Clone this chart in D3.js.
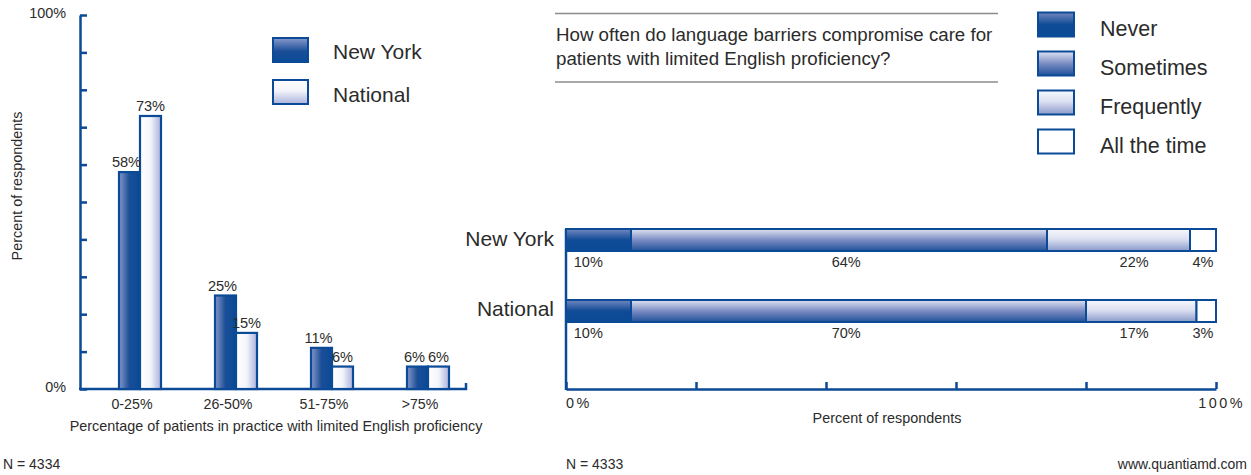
<!DOCTYPE html>
<html>
<head>
<meta charset="utf-8">
<script src="https://cdn.jsdelivr.net/npm/d3@7/dist/d3.min.js"></script>
<style>
  html, body { margin: 0; padding: 0; background: #fff; }
  svg { display: block; font-family: "Liberation Sans", Arial, sans-serif; }
  text { fill: #2b2b2b; }
</style>
</head>
<body>
<svg id="chart" width="1251" height="475"></svg>
<script>
// Practice share of patients with limited English proficiency
const practiceGroups = ["0-25%", "26-50%", "51-75%", ">75%"];
const practiceSeries = ["New York", "National"];
const newYorkShare = [58, 25, 11, 6];
const nationalShare = [73, 15, 6, 6];

// How often language barriers compromise care
const regions = ["New York", "National"];
const frequencyLevels = ["Never", "Sometimes", "Frequently", "All the time"];
const newYorkFrequency = [10, 64, 22, 4];
const nationalFrequency = [10, 70, 17, 3];

const leftTicks = [0, 10, 20, 30, 40, 50, 60, 70, 80, 90, 100];
const rightTicks = [0, 20, 40, 60, 80, 100];

const BLUE = "#0b4a96";
const SMALL = "14.4px";
const svg = d3.select("#chart");
const defs = svg.append("defs");

function gradient(id, stops, horizontal) {
  const g = defs.append("linearGradient").attr("id", id)
    .attr("x1", 0).attr("y1", 0)
    .attr("x2", horizontal ? 1 : 0).attr("y2", horizontal ? 0 : 1);
  stops.forEach(([o, c]) => g.append("stop").attr("offset", o).attr("stop-color", c));
}
// column fills (horizontal shading)
gradient("nyCol", [[0, "#8797c8"], [0.5, "#1a4e98"], [1, "#0b4a96"]], true);
gradient("natCol", [[0, "#ffffff"], [0.5, "#f4f5fb"], [1, "#aab2dc"]], true);
// legend / stacked fills (vertical shading)
gradient("nyV", [[0, "#8a9bcc"], [0.55, "#1a4e98"], [1, "#0b4a96"]], false);
gradient("natV", [[0, "#ffffff"], [0.45, "#f3f4fa"], [1, "#aab2dc"]], false);
gradient("lvl0", [[0, "#7388bf"], [0.5, "#0f4b96"], [1, "#0b4a96"]], false);
gradient("lvl1", [[0, "#dfe3f2"], [0.5, "#7b8cc3"], [1, "#1f5199"]], false);
gradient("lvl2", [[0, "#f7f8fc"], [0.45, "#dde1f1"], [1, "#8a99ca"]], false);
gradient("lvl3", [[0, "#ffffff"], [1, "#ffffff"]], false);
const levelFill = frequencyLevels.map((d, i) => `url(#lvl${i})`);

/* ---------------- Left: grouped columns ---------------- */
const yL = d3.scaleLinear().domain([0, 100]).range([389, 15]);
const xG = d3.scaleBand().domain(practiceGroups).range([92, 476]).padding(0);
const xS = d3.scaleBand().domain(practiceSeries).range([-21, 21]);

const yAxisL = svg.append("g").attr("transform", "translate(80,0)")
  .call(d3.axisRight(yL).tickValues(leftTicks).tickSize(7).tickSizeOuter(0).tickFormat(""));
yAxisL.selectAll("path, line").attr("stroke", BLUE).attr("stroke-width", 2.5);

// baseline with end tick
const xAxisL = svg.append("g").attr("transform", "translate(0,389)");
xAxisL.append("line").attr("x1", 79).attr("x2", 467).attr("stroke", BLUE).attr("stroke-width", 2.5);
xAxisL.append("line").attr("x1", 466).attr("x2", 466).attr("y1", 1).attr("y2", -6)
  .attr("stroke", BLUE).attr("stroke-width", 2.5);

svg.append("text").attr("x", 66).attr("y", 18).attr("text-anchor", "end")
  .style("font-size", SMALL).text("100%");
svg.append("text").attr("x", 66).attr("y", 392).attr("text-anchor", "end")
  .style("font-size", SMALL).text("0%");

svg.append("text").attr("transform", "translate(22,186) rotate(-90)")
  .attr("text-anchor", "middle").style("font-size", SMALL).text("Percent of respondents");

const colData = practiceGroups.flatMap((g, i) => [
  { group: g, series: "New York", value: newYorkShare[i], fill: "url(#nyCol)" },
  { group: g, series: "National", value: nationalShare[i], fill: "url(#natCol)" }
]);

const cols = svg.append("g");
cols.selectAll("rect").data(colData).join("rect")
  .attr("x", d => xG(d.group) + xG.bandwidth() / 2 + xS(d.series))
  .attr("width", xS.bandwidth())
  .attr("y", d => yL(d.value))
  .attr("height", d => yL(0) - yL(d.value))
  .attr("fill", d => d.fill)
  .attr("stroke", BLUE).attr("stroke-width", 2.2);

cols.selectAll("text").data(colData).join("text")
  .attr("x", d => xG(d.group) + xG.bandwidth() / 2 + xS(d.series) + xS.bandwidth() / 2 - (d.series === "New York" ? 3 : 0))
  .attr("y", d => yL(d.value) - 5)
  .attr("text-anchor", "middle").style("font-size", "14.6px")
  .text(d => d.value + "%");

svg.append("g").selectAll("text").data(practiceGroups).join("text")
  .attr("x", d => xG(d) + xG.bandwidth() / 2 - 8)
  .attr("y", 409).attr("text-anchor", "middle").style("font-size", "14.2px")
  .text(d => d);

svg.append("text").attr("x", 276).attr("y", 431).attr("text-anchor", "middle")
  .style("font-size", SMALL).text("Percentage of patients in practice with limited English proficiency");

// legend
const legL = svg.append("g");
practiceSeries.forEach((s, i) => {
  legL.append("rect").attr("x", 273).attr("y", 38 + i * 42).attr("width", 35).attr("height", 24)
    .attr("fill", i === 0 ? "url(#nyV)" : "url(#natV)")
    .attr("stroke", BLUE).attr("stroke-width", 2);
  legL.append("text").attr("x", 333).attr("y", 59 + i * 43)
    .style("font-size", "21px").text(s);
});

svg.append("text").attr("x", 3).attr("y", 469).style("font-size", "14px").text("N = 4334");

/* ---------------- Right: stacked bars ---------------- */
const xR = d3.scaleLinear().domain([0, 100]).range([566, 1216]);
const yR = d3.scaleBand().domain(regions).range([229, 322]).paddingInner(0.69).paddingOuter(0);

// question heading between rules
svg.append("line").attr("x1", 555).attr("x2", 998).attr("y1", 13.5).attr("y2", 13.5)
  .attr("stroke", "#8c8c8c").attr("stroke-width", 1.5);
svg.append("line").attr("x1", 555).attr("x2", 998).attr("y1", 82).attr("y2", 82)
  .attr("stroke", "#8c8c8c").attr("stroke-width", 1.5);
svg.append("text").attr("x", 556).attr("y", 41).style("font-size", "18.7px")
  .text("How often do language barriers compromise care for");
svg.append("text").attr("x", 556).attr("y", 65).style("font-size", "18.7px")
  .text("patients with limited English proficiency?");

// legend
const legR = svg.append("g");
frequencyLevels.forEach((lv, i) => {
  legR.append("rect").attr("x", 1038).attr("y", 12.5 + i * 39).attr("width", 36).attr("height", 24)
    .attr("fill", levelFill[i]).attr("stroke", BLUE).attr("stroke-width", 2);
  legR.append("text").attr("x", 1100).attr("y", 36 + i * 39)
    .style("font-size", "21.5px").text(lv);
});

// axes
const xAxisR = svg.append("g").attr("transform", "translate(0,389)")
  .call(d3.axisBottom(xR).tickValues(rightTicks).tickSize(-7).tickSizeOuter(0).tickFormat(""));
xAxisR.selectAll("path, line").attr("stroke", BLUE).attr("stroke-width", 2.5);
svg.append("line").attr("x1", 566).attr("x2", 566).attr("y1", yR("New York")).attr("y2", 390)
  .attr("stroke", BLUE).attr("stroke-width", 2.5);

svg.append("text").attr("x", xR(0)).attr("y", 408).style("font-size", SMALL)
  .style("letter-spacing", "2.5px").text("0%");
svg.append("text").attr("x", xR(100) + 29).attr("y", 408).attr("text-anchor", "end")
  .style("font-size", SMALL).style("letter-spacing", "2.5px").text("100%");
svg.append("text").attr("x", 887).attr("y", 423).attr("text-anchor", "middle")
  .style("font-size", SMALL).text("Percent of respondents");

// stacked segments
const rows = regions.map((r, i) => {
  const vals = i === 0 ? newYorkFrequency : nationalFrequency;
  const obj = { region: r };
  frequencyLevels.forEach((lv, j) => obj[lv] = vals[j]);
  return obj;
});
const stacked = d3.stack().keys(frequencyLevels)(rows);

const bars = svg.append("g");
stacked.forEach((layer, j) => {
  bars.selectAll(null).data(layer).join("rect")
    .attr("x", d => xR(d[0]))
    .attr("width", d => xR(d[1]) - xR(d[0]))
    .attr("y", d => yR(d.data.region))
    .attr("height", yR.bandwidth())
    .attr("fill", levelFill[j])
    .attr("stroke", BLUE).attr("stroke-width", 2);
});

// value labels under each bar, one column per frequency level
const labelAnchors = [[1.2, "start"], [43.1, "middle"], [87.4, "middle"], [99.6, "end"]];
rows.forEach(row => {
  frequencyLevels.forEach((lv, j) => {
    svg.append("text")
      .attr("x", xR(labelAnchors[j][0]))
      .attr("y", yR(row.region) + yR.bandwidth() + 16)
      .attr("text-anchor", labelAnchors[j][1])
      .style("font-size", "14.5px")
      .text(row[lv] + "%");
  });
});

// row labels
svg.append("g").selectAll("text").data(regions).join("text")
  .attr("x", 554).attr("y", d => yR(d) + 16.5).attr("text-anchor", "end")
  .style("font-size", "21px").text(d => d);

svg.append("text").attr("x", 566).attr("y", 469).style("font-size", "14px").text("N = 4333");
svg.append("text").attr("x", 1247).attr("y", 469).attr("text-anchor", "end")
  .style("font-size", "14px").text("www.quantiamd.com");
</script>
</body>
</html>
